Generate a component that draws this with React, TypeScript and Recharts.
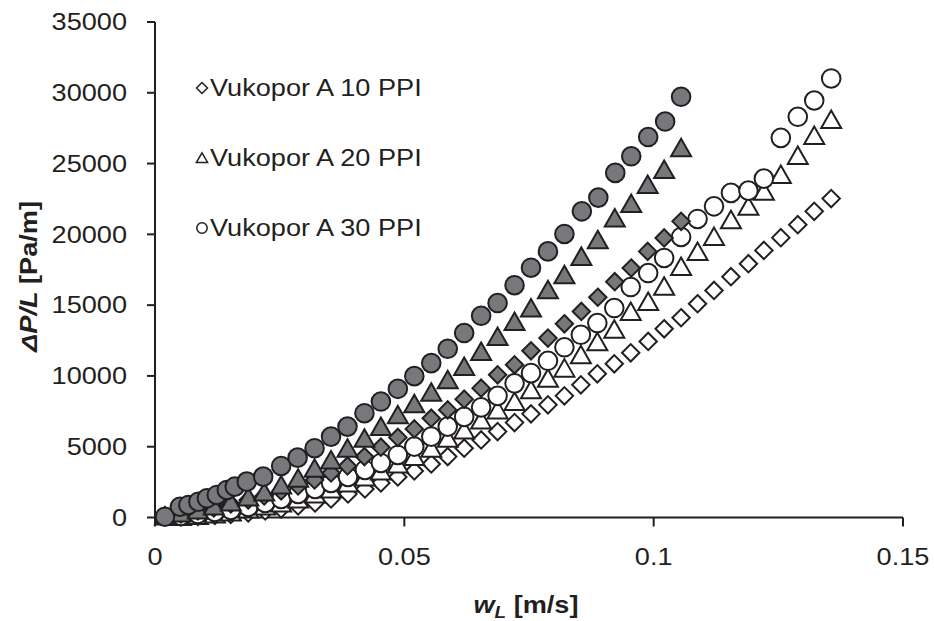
import React from "react";
import { Label, Legend, Scatter, ScatterChart, XAxis, YAxis } from "recharts";

// velocity w_L [m/s] shared by the three open-marker series
const wOpen = [
  0.0052, 0.0086, 0.012, 0.0152, 0.0187, 0.0221, 0.0253, 0.0287, 0.0321, 0.0353,
  0.0387, 0.0421, 0.0453, 0.0487, 0.052, 0.0554, 0.0587, 0.062, 0.0654, 0.0687,
  0.0721, 0.0754, 0.0788, 0.0821, 0.0854, 0.0887, 0.0921, 0.0954, 0.0989, 0.1021,
  0.1055, 0.1088, 0.1121, 0.1155, 0.119, 0.1221, 0.1255, 0.1289, 0.1322, 0.1356,
];
const dpOpenDiamond = [
  35, 71, 141, 212, 318, 460, 601, 813, 1025, 1308,
  1662, 2016, 2440, 2864, 3289, 3783, 4300, 4894, 5480, 6068,
  6704, 7320, 7956, 8593, 9370, 10149, 10856, 11633, 12433, 13331,
  14109, 15099, 16039, 17008, 17928, 18868, 19767, 20686, 21626, 22525,
];
const dpOpenTriangle = [
  71, 141, 247, 389, 601, 813, 1025, 1308, 1662, 2016,
  2440, 2864, 3289, 3783, 4300, 4894, 5601, 6188, 6895, 7602,
  8189, 9017, 9844, 10551, 11492, 12411, 13295, 14554, 15261, 16328,
  17737, 18790, 19840, 21037, 21980, 23040, 24222, 25566, 26980, 28111,
];
const dpOpenCircle = [
  106, 247, 389, 530, 743, 1025, 1308, 1662, 2016, 2440,
  2864, 3359, 3854, 4420, 5007, 5714, 6421, 7107, 7779, 8592,
  9476, 10198, 11068, 12022, 12906, 13734, 14795, 16280, 17270, 18331,
  19816, 21089, 21980, 22928, 23090, 23939, 26817, 28302, 29455, 31011,
];

// gray (filled) series
const wGray = [
  0.002, 0.0052, 0.0086, 0.0118, 0.0152, 0.0187, 0.0219, 0.0253, 0.0287, 0.032,
  0.0353, 0.0386, 0.042, 0.0453, 0.0487, 0.052, 0.0554, 0.0587, 0.062, 0.0654,
  0.0687, 0.0721, 0.0754, 0.0788, 0.0821, 0.0855, 0.0888, 0.0922, 0.0955, 0.0988,
  0.1021, 0.1055,
];
const dpGrayDiamond = [
  106, 247, 460, 672, 955, 1238, 1521, 1874, 2228, 2652,
  3147, 3642, 4300, 4965, 5658, 6259, 7015, 7602, 8359, 9137,
  10078, 10785, 11775, 12673, 13684, 14554, 15558, 16655, 17624, 18797,
  19745, 20919,
];
const dpGrayTriangle = [
  106, 318, 530, 813, 1096, 1450, 1803, 2298, 2772, 3479,
  4066, 4894, 5601, 6421, 7249, 8027, 8840, 9724, 10665, 11725,
  12786, 13847, 14795, 16089, 17150, 18444, 19625, 21159, 22171, 23514,
  24575, 26110,
];
const wGrayCircle = [
  0.002, 0.005, 0.0067, 0.0087, 0.0104, 0.0124, 0.0144, 0.016, 0.0184, 0.0217,
  0.0253, 0.0286, 0.032, 0.0353, 0.0386, 0.042, 0.0453, 0.0487, 0.052, 0.0554,
  0.0587, 0.062, 0.0654, 0.0687, 0.0721, 0.0754, 0.0788, 0.0821, 0.0856, 0.0889,
  0.0923, 0.0955, 0.0989, 0.1023, 0.1055,
];
const dpGrayCircle = [
  57, 764, 884, 1117, 1358, 1591, 1945, 2178, 2532, 2885,
  3642, 4229, 4894, 5714, 6421, 7369, 8189, 9088, 9986, 10905,
  11916, 13027, 14250, 15148, 16407, 17645, 18797, 20028, 21626, 22595,
  24342, 25516, 26874, 27970, 29716,
];

const legendLabels = ["Vukopor A 10 PPI", "Vukopor A 20 PPI", "Vukopor A 30 PPI"];
const legendKinds = ["diamond", "triangle", "circle"];
const xTicks = [0, 0.05, 0.1, 0.15];
const yTicks = [0, 5000, 10000, 15000, 20000, 25000, 30000, 35000];

const INK = "#231f20";
const GRAY = "#77787b";
const FONT = "'Liberation Sans', Arial, sans-serif";
const STRETCH = 1.18;

const toPoints = (w: number[], dp: number[]) => w.map((v, i) => ({ w: v, dp: dp[i] }));

function Marker({ cx, cy, kind, fill }: { cx?: number; cy?: number; kind: string; fill: string }) {
  if (cx == null || cy == null) return null;
  if (kind === "circle") {
    return <circle cx={cx} cy={cy} r={9.3} fill={fill} stroke={INK} strokeWidth={2} />;
  }
  if (kind === "triangle") {
    const pts = `${cx},${cy - 9} ${cx + 10},${cy + 8.5} ${cx - 10},${cy + 8.5}`;
    return <polygon points={pts} fill={fill} stroke={INK} strokeWidth={2} strokeLinejoin="miter" />;
  }
  const d = 8.7;
  const pts = `${cx},${cy - d} ${cx + d},${cy} ${cx},${cy + d} ${cx - d},${cy}`;
  return <polygon points={pts} fill={fill} stroke={INK} strokeWidth={2} />;
}

function YTick({ x, y, payload }: any) {
  return (
    <text
      x={x}
      y={y}
      dy={8.3}
      textAnchor="end"
      fontSize={23}
      fontFamily={FONT}
      fill={INK}
      transform={`translate(${x} ${y}) scale(${STRETCH} 1) translate(${-x} ${-y})`}
    >
      {payload.value}
    </text>
  );
}

function XTick({ x, y, payload }: any) {
  return (
    <text
      x={x}
      y={y}
      dy={17}
      textAnchor="middle"
      fontSize={23}
      fontFamily={FONT}
      fill={INK}
      transform={`translate(${x} ${y}) scale(${STRETCH} 1) translate(${-x} ${-y})`}
    >
      {payload.value}
    </text>
  );
}

function XTitle({ viewBox }: any) {
  const cx = viewBox.x + viewBox.width / 2 - 3;
  const y = viewBox.y + 95.5;
  return (
    <text
      x={cx}
      y={y}
      textAnchor="middle"
      fontSize={23}
      fontWeight="bold"
      fontFamily={FONT}
      fill={INK}
      transform={`translate(${cx} ${y}) scale(${STRETCH} 1) translate(${-cx} ${-y})`}
    >
      <tspan fontStyle="italic">w</tspan>
      <tspan fontStyle="italic" fontSize={16} dy={5}>L</tspan>
      <tspan dy={-5}> [m/s]</tspan>
    </text>
  );
}

function YTitle() {
  const cx = 37;
  const cy = 276.5;
  return (
    <text
      x={0}
      y={0}
      textAnchor="middle"
      fontSize={23}
      fontWeight="bold"
      fontFamily={FONT}
      fill={INK}
      transform={`translate(${cx} ${cy}) rotate(-90) scale(${STRETCH} 1)`}
    >
      <tspan fontStyle="italic">ΔP/L</tspan>
      <tspan> [Pa/m]</tspan>
    </text>
  );
}

function LegendBox() {
  return (
    <div style={{ fontFamily: FONT, fontSize: 23, color: INK }}>
      {legendLabels.map((label, i) => (
        <div key={label} style={{ height: 70, display: "flex", alignItems: "center" }}>
          <svg width={14} height={14} style={{ flex: "none" }}>
            {legendKinds[i] === "circle" && <circle cx={7} cy={7} r={5.2} fill="#fff" stroke={INK} strokeWidth={1.5} />}
            {legendKinds[i] === "triangle" && (
              <polygon points="7,1.8 12.6,11.5 1.4,11.5" fill="#fff" stroke={INK} strokeWidth={1.5} />
            )}
            {legendKinds[i] === "diamond" && (
              <polygon points="7,1.5 12.5,7 7,12.5 1.5,7" fill="#fff" stroke={INK} strokeWidth={1.5} />
            )}
          </svg>
          <span
            style={{
              display: "inline-block",
              whiteSpace: "nowrap",
              transform: `scaleX(${STRETCH})`,
              transformOrigin: "left center",
              marginLeft: 1,
            }}
          >
            {label}
          </span>
        </div>
      ))}
    </div>
  );
}

const series = [
  { name: "open-diamond", data: toPoints(wOpen, dpOpenDiamond), kind: "diamond", fill: "#fff" },
  { name: "open-triangle", data: toPoints(wOpen, dpOpenTriangle), kind: "triangle", fill: "#fff" },
  { name: "open-circle", data: toPoints(wOpen, dpOpenCircle), kind: "circle", fill: "#fff" },
  { name: "gray-diamond", data: toPoints(wGray, dpGrayDiamond), kind: "diamond", fill: GRAY },
  { name: "gray-triangle", data: toPoints(wGray, dpGrayTriangle), kind: "triangle", fill: GRAY },
  { name: "gray-circle", data: toPoints(wGrayCircle, dpGrayCircle), kind: "circle", fill: GRAY },
];

export default function App() {
  return (
    <div style={{ position: "absolute", left: 0, top: 0, width: 934, height: 621, background: "#fff" }}>
      <ScatterChart width={934} height={621} margin={{ top: 22, right: 31, bottom: 43.5, left: 0 }}>
        <XAxis
          type="number"
          dataKey="w"
          domain={[0, 0.15]}
          ticks={xTicks}
          height={60}
          tickSize={9}
          tickMargin={21.5}
          tick={<XTick />}
          axisLine={{ stroke: INK, strokeWidth: 2 }}
          tickLine={{ stroke: INK, strokeWidth: 2 }}
        >
          <Label content={<XTitle />} />
        </XAxis>
        <YAxis
          type="number"
          dataKey="dp"
          domain={[0, 35000]}
          ticks={yTicks}
          width={155}
          tickSize={8}
          tickMargin={20}
          tick={<YTick />}
          axisLine={{ stroke: INK, strokeWidth: 2 }}
          tickLine={{ stroke: INK, strokeWidth: 2 }}
        >
          <Label content={<YTitle />} />
        </YAxis>
        <Legend
          layout="vertical"
          align="center"
          verticalAlign="middle"
          content={<LegendBox />}
          wrapperStyle={{ left: 195, top: 53, width: 280, height: 210 }}
        />
        {series.map((s) => (
          <Scatter
            key={s.name}
            name={s.name}
            data={s.data}
            isAnimationActive={false}
            shape={(props: any) => <Marker cx={props.cx} cy={props.cy} kind={s.kind} fill={s.fill} />}
          />
        ))}
      </ScatterChart>
    </div>
  );
}
